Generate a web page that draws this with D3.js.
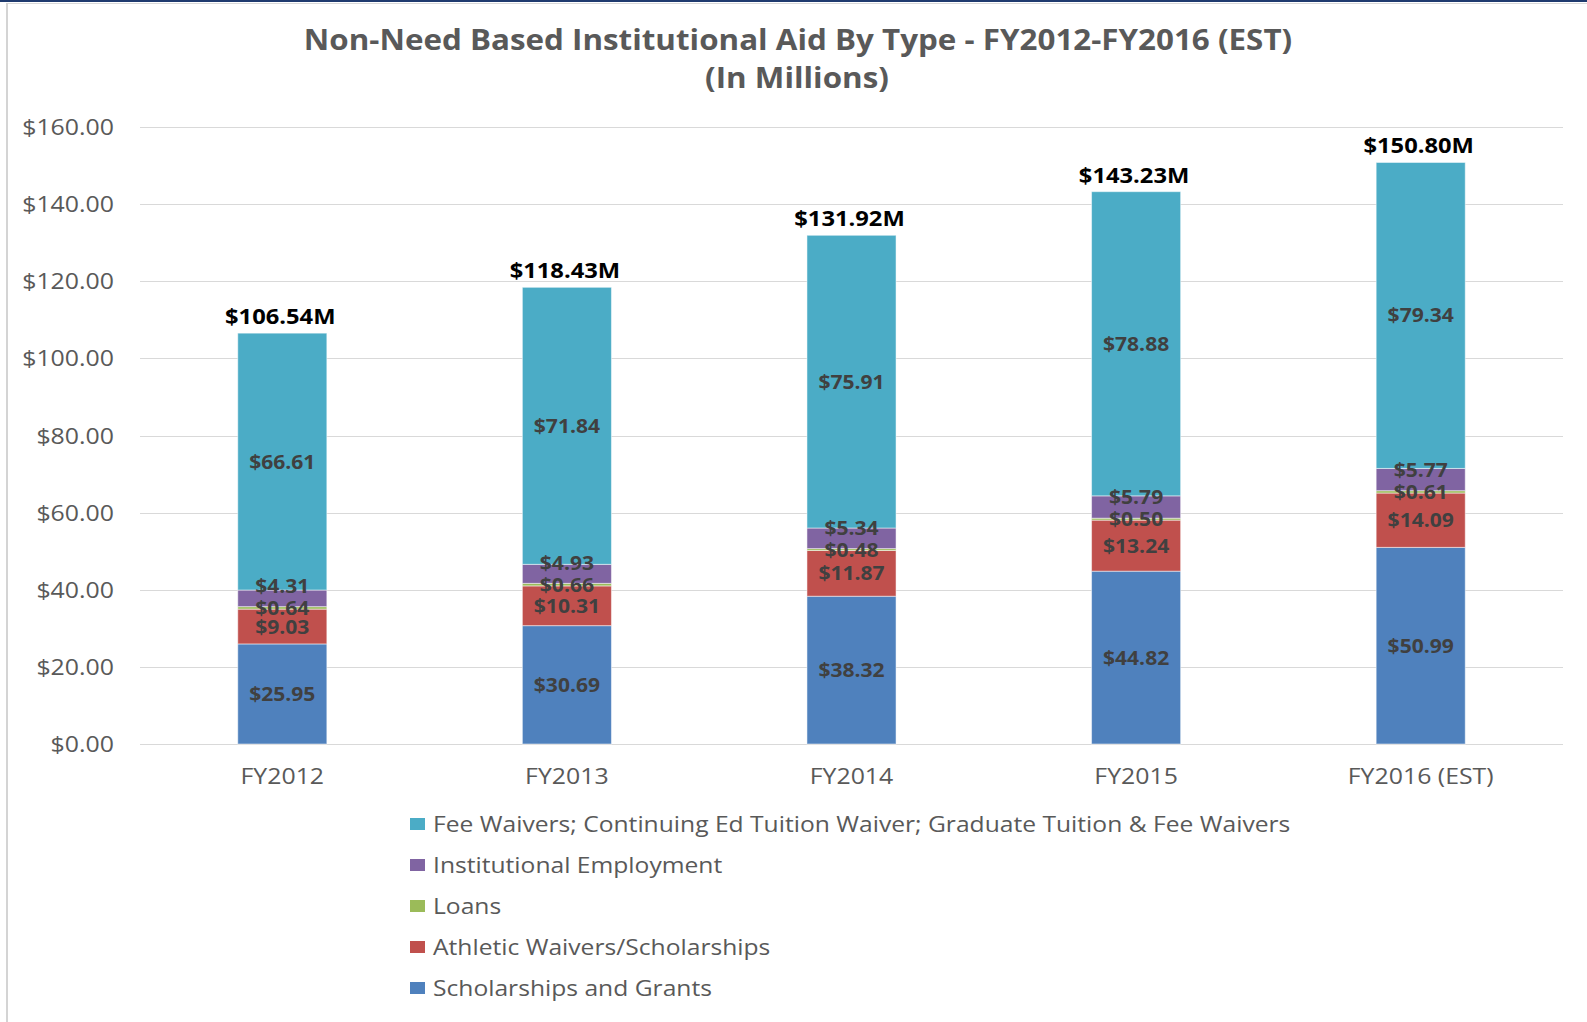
<!DOCTYPE html>
<html>
<head>
<meta charset="utf-8">
<script src="https://cdn.jsdelivr.net/npm/d3@7"></script>
<style>
    body { margin: 0; background: #fff; }
    text { font-family: "Open Sans", "Noto Sans", sans-serif; }
</style>
</head>
<body>
<div id="chart"></div>
<script>
const years = ['FY2012', 'FY2013', 'FY2014', 'FY2015', 'FY2016 (EST)'];
const scholarships = [25.95, 30.69, 38.32, 44.82, 50.99];
const athletic = [9.03, 10.31, 11.87, 13.24, 14.09];
const loans = [0.64, 0.66, 0.48, 0.50, 0.61];
const employment = [4.31, 4.93, 5.34, 5.79, 5.77];
const feeWaivers = [66.61, 71.84, 75.91, 78.88, 79.34];
const yTicks = [0, 20, 40, 60, 80, 100, 120, 140, 160];

const seriesNames = [
    'Scholarships and Grants',
    'Athletic Waivers/Scholarships',
    'Loans',
    'Institutional Employment',
    'Fee Waivers; Continuing Ed Tuition Waiver; Graduate Tuition & Fee Waivers'
];
const seriesValues = [scholarships, athletic, loans, employment, feeWaivers];
const colors = ['#4f81bd', '#c0504d', '#9bbb59', '#8064a2', '#4bacc6'];

const width = 1587, height = 1022;
const plot = {left: 140, right: 1563, top: 127, bottom: 744};

const rows = years.map((y, i) => {
    const row = {year: y};
    seriesNames.forEach((n, k) => row[n] = seriesValues[k][i]);
    return row;
});
const stacked = d3.stack().keys(seriesNames)(rows);

const svg = d3.select('#chart').append('svg')
    .attr('width', width)
    .attr('height', height);

svg.append('rect').attr('width', width).attr('height', height).attr('fill', '#fff');

// frame
svg.append('line').attr('x1', 0).attr('x2', width).attr('y1', 1).attr('y2', 1)
    .attr('stroke', '#1f3b6f').attr('stroke-width', 2);
svg.append('line').attr('x1', 7).attr('x2', width).attr('y1', 3.5).attr('y2', 3.5)
    .attr('stroke', '#d9d9d9').attr('stroke-width', 1);
svg.append('line').attr('x1', 7).attr('x2', 7).attr('y1', 3).attr('y2', height)
    .attr('stroke', '#d4d4d4').attr('stroke-width', 2);

// text in the picture is a bit wide, so stretch it horizontally
function label(g, x, y, txt, sx) {
    return g.append('text')
        .attr('transform', 'translate(' + x + ',' + y + ') scale(' + (sx || 1.08) + ',1)')
        .text(txt);
}

// title
const title = svg.append('g').attr('font-weight', 'bold').attr('fill', '#595959')
    .attr('font-size', 28).attr('text-anchor', 'middle');
label(title, 798, 50, 'Non-Need Based Institutional Aid By Type - FY2012-FY2016 (EST)', 1.12);
label(title, 797, 88, '(In Millions)', 1.12);

const x = d3.scaleBand().domain(years).range([plot.left, plot.right]).paddingInner(0.687).paddingOuter(0.3435);
const y = d3.scaleLinear().domain([0, 160]).range([plot.bottom, plot.top]);

// grid
svg.append('g').selectAll('line').data(yTicks).enter().append('line')
    .attr('x1', plot.left).attr('x2', plot.right)
    .attr('y1', d => Math.round(y(d)) + 0.5).attr('y2', d => Math.round(y(d)) + 0.5)
    .attr('stroke', '#d9d9d9').attr('stroke-width', 1);

// y labels
const yAxis = svg.append('g').attr('fill', '#595959').attr('font-size', 22).attr('text-anchor', 'end');
yTicks.forEach(t => label(yAxis, 114, y(t) + 8, '$' + d3.format('.2f')(t), 1.13));

// x labels
const xAxis = svg.append('g').attr('fill', '#595959').attr('font-size', 22).attr('text-anchor', 'middle');
years.forEach(yr => label(xAxis, x(yr) + x.bandwidth() / 2, 784, yr, 1.13));

// bars
svg.append('g').selectAll('g').data(stacked).enter().append('g')
    .attr('fill', (d, i) => colors[i])
    .selectAll('rect').data(d => d).enter().append('rect')
    .attr('x', d => x(d.data.year))
    .attr('width', x.bandwidth())
    .attr('y', d => y(d[1]))
    .attr('height', d => y(d[0]) - y(d[1]))
    .attr('stroke', '#ffffff').attr('stroke-opacity', 0.5).attr('stroke-width', 1);

// segment labels
const segLabels = svg.append('g').attr('font-weight', 'bold').attr('fill', '#404040')
    .attr('font-size', 19.5).attr('text-anchor', 'middle');
years.forEach((yr, i) => {
    const cx = x(yr) + x.bandwidth() / 2;
    const mid = stacked.map(s => y((s[i][0] + s[i][1]) / 2));
    // employment label sits above the loans label
    mid[3] = Math.min(mid[3], mid[2] - 22);
    stacked.forEach((s, k) => {
        label(segLabels, cx, mid[k] + 7, '$' + d3.format('.2f')(seriesValues[k][i]));
    });
});

// totals
const totals = svg.append('g').attr('font-weight', 'bold').attr('fill', '#000')
    .attr('font-size', 21).attr('text-anchor', 'middle');
years.forEach((yr, i) => {
    const total = d3.sum(seriesValues, s => s[i]);
    label(totals, x(yr) + x.bandwidth() / 2 - 2, y(total) - 9, '$' + d3.format('.2f')(total) + 'M', 1.13);
});

// legend
const legend = svg.append('g').attr('fill', '#595959').attr('font-size', 22);
seriesNames.slice().reverse().forEach((n, j) => {
    const ly = 832 + j * 41;
    legend.append('rect')
        .attr('x', 410).attr('y', ly - 14).attr('width', 15).attr('height', 12)
        .attr('fill', colors[seriesNames.length - 1 - j]);
    label(legend, 433, ly, n, 1.12);
});
</script>
</body>
</html>
